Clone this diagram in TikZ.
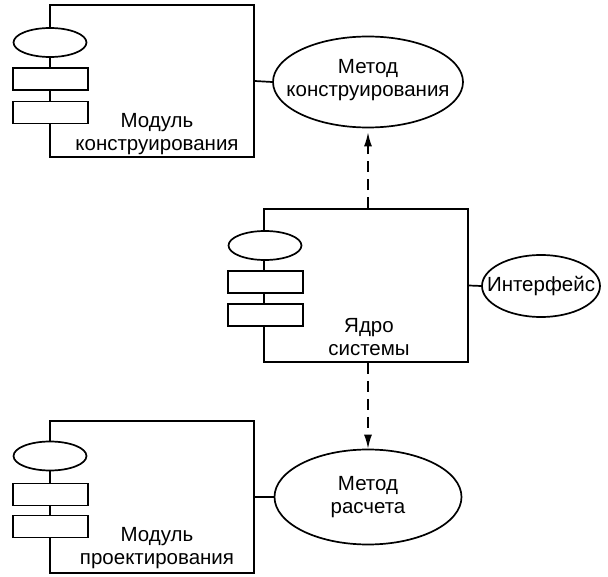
\documentclass[tikz,border=0pt]{standalone}
\usepackage{fontspec}
\setmainfont{Liberation Sans}
\usetikzlibrary{arrows.meta,shapes.geometric}
\begin{document}
\begin{tikzpicture}[x=1pt,y=-1pt,
  every node/.style={font=\fontsize{20.5}{23}\selectfont, inner sep=0pt},
  comp/.style={draw, line width=1.7pt, rectangle, minimum width=204pt, minimum height=152pt},
  port/.style={draw, line width=1.7pt, ellipse, fill=white, minimum width=73pt, minimum height=29pt},
  slot/.style={draw, line width=1.7pt, rectangle, fill=white, minimum width=75pt, minimum height=22pt},
  usecase/.style={draw, line width=1.7pt, ellipse},
  label/.style={align=center},
  link/.style={line width=1.7pt},
  dep/.style={line width=1.6pt, dash pattern=on 11pt off 7pt, -{Latex[length=14pt,width=8pt]}}
]
\useasboundingbox (0,0) rectangle (608,577);

% Module 1
\node[comp] (m1) at (152,81) {};
\node[port] (m1e) at (50,42.5) {};
\node[slot] (m1a) at (50.5,79) {};
\node[slot] (m1b) at (50.5,112.5) {};
\node[label] (m1t) at (157,134) {Модуль\\конструирования};

% Core
\node[comp, minimum height=153pt] (core) at (366,285.5) {};
\node[port] (ce) at (265,245.5) {};
\node[slot] (ca) at (265.5,282) {};
\node[slot] (cb) at (265.5,315) {};
\node[label] (ct) at (369,337) {Ядро\\системы};

% Module 3
\node[comp] (m3) at (152,497) {};
\node[port] (m3e) at (50,456) {};
\node[slot] (m3a) at (50.5,494.5) {};
\node[slot] (m3b) at (50.5,526.5) {};
\node[label] (m3t) at (157,548) {Модуль\\проектирования};

% Use cases
\node[usecase, minimum width=190pt, minimum height=91pt] (mk) at (368,82) {};
\node[label] (mkt) at (368,80) {Метод\\конструирования};
\node[usecase, minimum width=187pt, minimum height=95pt] (mr) at (368,497) {};
\node[label] (mrt) at (368,497) {Метод\\расчета};
\node[usecase, minimum width=118pt, minimum height=62pt] (ifc) at (541,286) {};
\node[label] (ifct) at (541,286) {Интерфейс};

% Connectors
\draw[link] (m1.east) -- (mk.west);
\draw[link] (core.east) -- (ifc.west);
\draw[link] (m3.east) -- (mr.west);
\draw[dep, shorten >=4pt] (core.north -| mk.south) -- (mk.south);
\draw[dep] (core.south -| mr.north) -- (mr.north);
\end{tikzpicture}
\end{document}
